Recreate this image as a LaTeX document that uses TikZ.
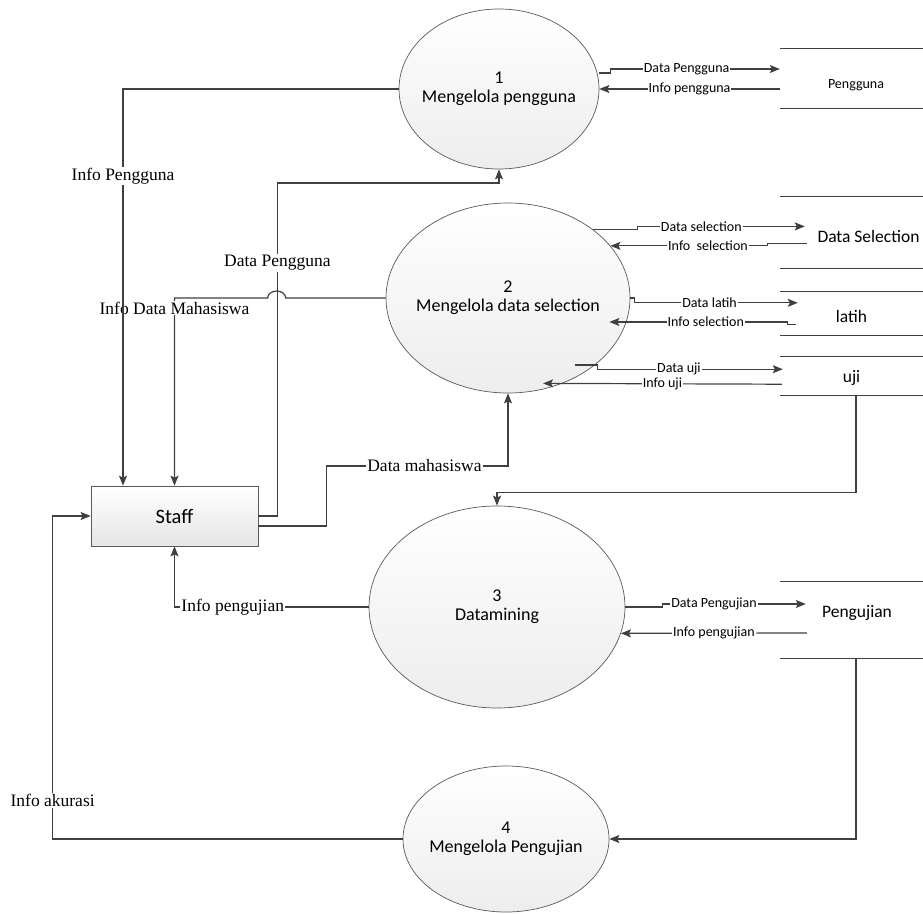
\documentclass[tikz,border=0pt]{standalone}
\usepackage{fontspec}
\setmainfont{Carlito}
\newfontfamily\timesfont{Liberation Serif}
\usepackage{tikz}
\usetikzlibrary{shapes.geometric, arrows.meta, positioning}

\definecolor{linegray}{HTML}{404040}
\definecolor{edgegray}{HTML}{5A5A5A}

\begin{document}
\begin{tikzpicture}[x=1pt, y=-1pt,
    line/.style={draw=linegray, line width=1.2pt},
    flow/.style={line, -{Stealth[length=10pt, width=8pt, inset=2pt]}},
    proc/.style={ellipse, draw=edgegray, line width=0.7pt, inner sep=0pt, top color=white, bottom color=black!7},
    proctext/.style={align=center, font=\fontsize{18}{19}\selectfont},
    store/.style={minimum width=143pt, inner sep=0pt},
    storetext/.style={font=\fontsize{17.5}{20}\selectfont},
    flowlabel/.style={fill=white, inner sep=1pt, font=\fontsize{14}{16}\selectfont},
    leftlabel/.style={fill=white, inner sep=1pt, font=\timesfont\fontsize{17.5}{20}\selectfont}]
    \useasboundingbox (0,0) rectangle (923,913);

    \node (p1) at (499,89) [proc, minimum width=200pt, minimum height=160pt, label={[proctext]center:1\\Mengelola pengguna}] {};
    \node (p2) at (508,298) [proc, minimum width=244pt, minimum height=190pt, label={[proctext]center:2\\Mengelola data selection}] {};
    \node (p3) at (497,607) [proc, minimum width=256pt, minimum height=202pt, label={[proctext]center:3\\Datamining}] {};
    \node (p4) at (506,839) [proc, minimum width=206pt, minimum height=146pt, label={[proctext]center:4\\Mengelola Pengujian}] {};
    \node (staff) at (174.5,516) [rectangle, draw=edgegray, line width=0.7pt, minimum width=167pt, minimum height=60pt, top color=white, bottom color=black!10, font=\fontsize{20.5}{22}\selectfont] {Staff};

    \node (sPengguna) at (851.5,78.5) [store, minimum height=59pt, label={[storetext, font=\fontsize{14}{16}\selectfont, xshift=4.5pt, yshift=-6.5pt]center:Pengguna}] {};
    \node (sSelection) [below=88pt of sPengguna, store, minimum height=72pt, label={[storetext, xshift=17pt, yshift=-4pt]center:Data Selection}] {};
    \node (sLatih) [below=23pt of sSelection, store, minimum height=43pt, label={[storetext, yshift=-3.5pt]center:latih}] {};
    \node (sUji) [below=21pt of sLatih, store, minimum height=39pt, label={[storetext, yshift=-2.5pt]center:uji}] {};
    \node (sPengujian) at (851.5,620) [store, minimum height=76pt, label={[storetext, xshift=5.5pt, yshift=7pt]center:Pengujian}] {};

    \draw [line, line width=0.9pt] (sPengguna.north west) -- (sPengguna.north east) (sPengguna.south west) -- (sPengguna.south east);
    \draw [line, line width=0.9pt] (sSelection.north west) -- (sSelection.north east) (sSelection.south west) -- (sSelection.south east);
    \draw [line, line width=0.9pt] (sLatih.north west) -- (sLatih.north east) (sLatih.south west) -- (sLatih.south east);
    \draw [line, line width=0.9pt] (sUji.north west) -- (sUji.north east) (sUji.south west) -- (sUji.south east);
    \draw [line, line width=0.9pt] (sPengujian.north west) -- (sPengujian.north east) (sPengujian.south west) -- (sPengujian.south east);

    \draw [flow] ([yshift=16pt]p1.east) -- ++(11,0) |- node [flowlabel, pos=0.725] {Data Pengguna} ([yshift=9.5pt]sPengguna.west);
    \draw [flow] ([yshift=-10.5pt]sPengguna.west) -- node [flowlabel] {Info pengguna} (p1.east);

    \draw [flow] (p2.39) -- ++(45,0) |- node [flowlabel, pos=0.69] {Data selection} ([xshift=25pt, yshift=6pt]sSelection.west);
    \draw [flow] ([xshift=27pt, yshift=-11pt]sSelection.west) -- ++(-39,0) |- node [flowlabel, pos=0.69] {Info\ \ selection} (p2.27);
    \draw [flow] (p2.east) -- ++(4,0) |- node [flowlabel, pos=0.73] {Data latih} ([xshift=18pt, yshift=10.5pt]sLatih.west);
    \draw [flow] ([xshift=16pt, yshift=-11.5pt]sLatih.west) -- ++(-8,0) |- node [flowlabel, pos=0.73] {Info selection} ([xshift=-21pt, yshift=-24pt]p2.east);
    \draw [flow] ([xshift=-55pt, yshift=-67pt]p2.east) -- ++(22,0) |- node [flowlabel, pos=0.72] {Data uji} ([xshift=3pt, yshift=6.5pt]sUji.west);
    \draw [flow] ([xshift=2pt, yshift=-8.5pt]sUji.west) -- node [flowlabel] {Info uji} ([xshift=35pt, yshift=10pt]p2.south);
    \draw [flow] ([xshift=4.5pt]sUji.south) -- ++(0,97) -| (p3.north);

    \draw [flow] (p3.east) -- ++(37,0) |- node [flowlabel, pos=0.68] {Data Pengujian} ([xshift=26pt, yshift=16pt]sPengujian.west);
    \draw [flow] ([xshift=27pt, yshift=-13pt]sPengujian.west) -- node [flowlabel] {Info pengujian} (p3.-12);
    \draw [flow] ([xshift=4.5pt]sPengujian.south) |- (p4.east);

    \draw [flow] (p3.west) -| node [leftlabel, pos=0.35] {Info pengujian} (staff.south);
    \draw [flow] (p4.west) -- ++(-350,0) |- node [leftlabel, pos=0.06] {Info akurasi} (staff.west);
    \draw [flow] (p2.west) -- ++(-100,0) arc [start angle=0, end angle=-180, x radius=9, y radius=7] -| node [leftlabel, pos=0.527] {Info Data Mahasiswa} (staff.north);
    \draw [flow] (p1.west) -| node [leftlabel, pos=0.61] {Info Pengguna} ([xshift=-51.5pt]staff.north);
    \draw [flow] (staff.east) -- ++(19,0) -- node [leftlabel, pos=0.76] {Data Pengguna} ++(0,-333) -| (p1.south);
    \draw [flow] ([yshift=-10pt]staff.east) -- ++(68,0) -- ++(0,-60) -| node [leftlabel, pos=0.27] {Data mahasiswa} (p2.south);
  \end{tikzpicture}
\end{document}
